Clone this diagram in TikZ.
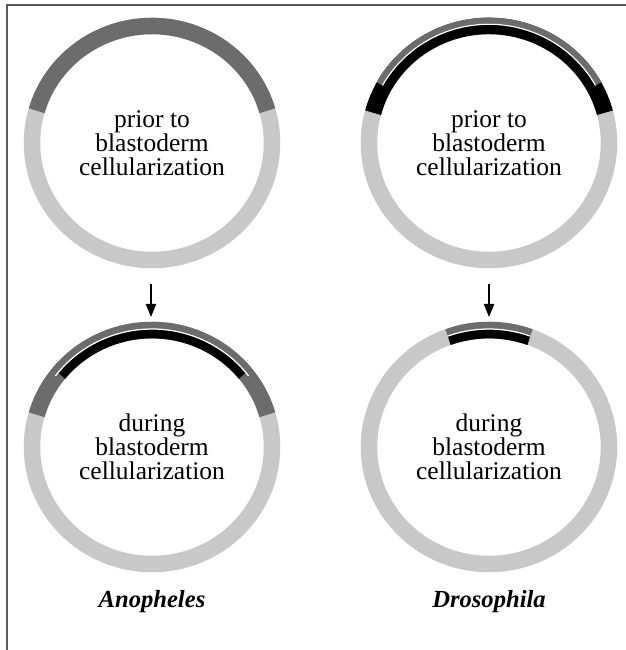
\documentclass[tikz,border=0pt]{standalone}
\usepackage{fontspec}
\setmainfont{Liberation Serif}
\usetikzlibrary{arrows.meta}
\definecolor{ringlight}{RGB}{200,200,200}
\definecolor{ringdark}{RGB}{108,108,108}
\definecolor{framegray}{RGB}{90,90,90}
\tikzset{
    embryo/.style={yscale=0.975},
    ring/.style={line width=6.6mm},
    outerband/.style={line width=2.4mm, ringdark},
    innerband/.style={line width=3.6mm, black},
    gapline/.style={line width=0.5mm, white},
    stagetext/.style={align=center, font=\fontsize{29}{27}\selectfont},
    species/.style={font=\fontsize{28}{28}\selectfont\bfseries\itshape},
    stagearrow/.style={line width=0.8mm, -{Triangle[length=5.2mm, width=4mm]}},
}

\begin{document}
\begin{tikzpicture}[x=0.04cm, y=0.04cm]
    \useasboundingbox (0,0) rectangle (626,650);
    \draw[framegray, line width=0.8mm] (7,0) -- (7,645) -- (626,645);

    \coordinate (tl) at (152,507);
    \coordinate (tr) at (489,507);
    \coordinate (bl) at (152,203);
    \coordinate (br) at (489,203);

    % Anopheles
    \begin{scope}[shift={(tl)}, embryo]
        \draw[ring, ringlight] (0,0) circle (120);
        \draw[ring, ringdark] (16:120) arc (16:164:120);
    \end{scope}
    \begin{scope}[shift={(bl)}, embryo]
        \draw[ring, ringlight] (0,0) circle (120);
        \draw[ring, ringdark] (16:120) arc (16:164:120);
        \draw[innerband] (39:116) arc (39:141:116);
        \draw[gapline] (37:121) arc (37:143:121);
    \end{scope}

    % Drosophila
    \begin{scope}[shift={(tr)}, embryo]
        \draw[ring, ringlight] (0,0) circle (120);
        \draw[ring, black] (15:120) arc (15:165:120);
        \draw[outerband] (29:125.5) arc (29:151:125.5);
        \draw[gapline] (29:121.8) arc (29:151:121.8);
    \end{scope}
    \begin{scope}[shift={(br)}, embryo]
        \draw[ring, ringlight] (0,0) circle (120);
        \draw[ring, ringdark] (70:120) arc (70:110:120);
        \draw[innerband] (70:116) arc (70:110:116);
        \draw[gapline] (70:121) arc (70:110:121);
    \end{scope}

    \node[stagetext] (tltext) at (tl) {prior to\\blastoderm\\cellularization};
    \node[stagetext] (trtext) at (tr) {prior to\\blastoderm\\cellularization};
    \node[stagetext] (bltext) at (bl) {during\\blastoderm\\cellularization};
    \node[stagetext] (brtext) at (br) {during\\blastoderm\\cellularization};

    \coordinate (la1) at (151,366);
    \coordinate (la2) at (151,333);
    \coordinate (ra1) at (489,366);
    \coordinate (ra2) at (489,333);
    \draw[stagearrow] (la1) -- (la2);
    \draw[stagearrow] (ra1) -- (ra2);

    \node[species] (anoph) at (152,48) {Anopheles};
    \node[species] (droso) at (489,48) {Drosophila};
\end{tikzpicture}
\end{document}
